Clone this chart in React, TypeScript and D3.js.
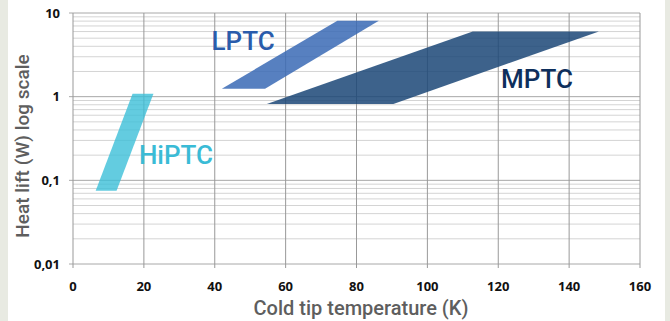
import React from 'react'
import * as d3 from 'd3'

const xTicks = [0, 20, 40, 60, 80, 100, 120, 140, 160]
const yTicks = [0.01, 0.1, 1, 10]
const yTickLabels = ['0,01', '0,1', '1', '10']

// corners of each operating zone: [cold tip temperature K, heat lift W]
const hiptcZone: [number, number][] = [[6.4, 0.075], [12.3, 0.075], [22.7, 1.08], [16.8, 1.08]]
const lptcZone: [number, number][] = [[42, 1.24], [54.2, 1.24], [86.3, 8.1], [74.6, 8.1]]
const mptcZone: [number, number][] = [[54.7, 0.82], [90.4, 0.82], [148.4, 6], [112.8, 6]]

const zoneNames = ['MPTC', 'LPTC', 'HiPTC']
const zoneLabelAt: [number, number][] = [[120.8, 1.28], [39.1, 3.64], [18.6, 0.157]]

export default function App() {
  const width = 670
  const height = 321
  const margin = { top: 13, right: 30, bottom: 57, left: 73 }
  const innerW = width - margin.left - margin.right
  const innerH = height - margin.top - margin.bottom

  const x = d3.scaleLinear().domain([0, 160]).range([0, innerW])
  const y = d3.scaleLog().domain([0.01, 10]).range([innerH, 0])

  const line = d3
    .line<[number, number]>()
    .x(d => x(d[0]))
    .y(d => y(d[1]))
    .curve(d3.curveLinearClosed)

  // minor log gridlines 2..9 in every decade
  const minor: number[] = []
  for (let d = -2; d < 1; d++) {
    for (let k = 2; k <= 9; k++) minor.push(k * Math.pow(10, d))
  }

  const zones = [
    { pts: mptcZone, fill: '#1b4677', op: 0.85, label: '#0e2f5c' },
    { pts: lptcZone, fill: '#3a6ab5', op: 0.85, label: '#2a5cab' },
    { pts: hiptcZone, fill: '#3cbfd8', op: 0.8, label: '#3abbd6' }
  ]

  return (
    <svg
      width={width}
      height={height}
      style={{ position: 'absolute', left: 0, top: 0, fontFamily: 'Roboto, sans-serif' }}
    >
      <rect width={width} height={height} fill="#ffffff" />
      <rect x={0} y={0} width={8} height={height} fill="#e8eae2" />
      <rect x={665} y={0} width={5} height={height} fill="#e8eae2" />
      <g transform={`translate(${margin.left},${margin.top})`}>
        {minor.map(v => (
          <line key={'m' + v} x1={0} x2={innerW} y1={y(v)} y2={y(v)} stroke="#d4d4d4" strokeWidth={1} />
        ))}
        {yTicks.map(v => (
          <line key={'y' + v} x1={-4} x2={innerW} y1={y(v)} y2={y(v)} stroke="#a8a8a8" strokeWidth={1} />
        ))}
        {xTicks.map(v => (
          <line key={'x' + v} x1={x(v)} x2={x(v)} y1={0} y2={innerH + 4} stroke="#999999" strokeWidth={1} />
        ))}
        {zones.map((z, i) => (
          <path key={i} d={line(z.pts) || ''} fill={z.fill} fillOpacity={z.op} />
        ))}
        {zones.map((z, i) => (
          <text
            key={'l' + i}
            x={x(zoneLabelAt[i][0])}
            y={y(zoneLabelAt[i][1])}
            fill={z.label}
            fontSize={26}
            fontWeight={500}
          >
            {zoneNames[i]}
          </text>
        ))}
        {yTicks.map((v, i) => (
          <text
            key={'yt' + v}
            x={-13}
            y={y(v)}
            dy="0.35em"
            textAnchor="end"
            fontFamily="'Open Sans', sans-serif"
            fontWeight={700}
            fontSize={13}
            fill="#111"
          >
            {yTickLabels[i]}
          </text>
        ))}
        {xTicks.map(v => (
          <text
            key={'xt' + v}
            x={x(v)}
            y={innerH + 22}
            dy="0.35em"
            textAnchor="middle"
            fontFamily="'Open Sans', sans-serif"
            fontWeight={700}
            fontSize={13}
            fill="#111"
          >
            {v}
          </text>
        ))}
      </g>
      <text x={361} y={315} textAnchor="middle" fontSize={20} fontWeight={500} fill="#5e5e5e">
        Cold tip temperature (K)
      </text>
      <text
        transform="translate(29,146) rotate(-90)"
        textAnchor="middle"
        fontSize={19}
        fontWeight={500}
        fill="#5e5e5e"
      >
        Heat lift (W) log scale
      </text>
    </svg>
  )
}
